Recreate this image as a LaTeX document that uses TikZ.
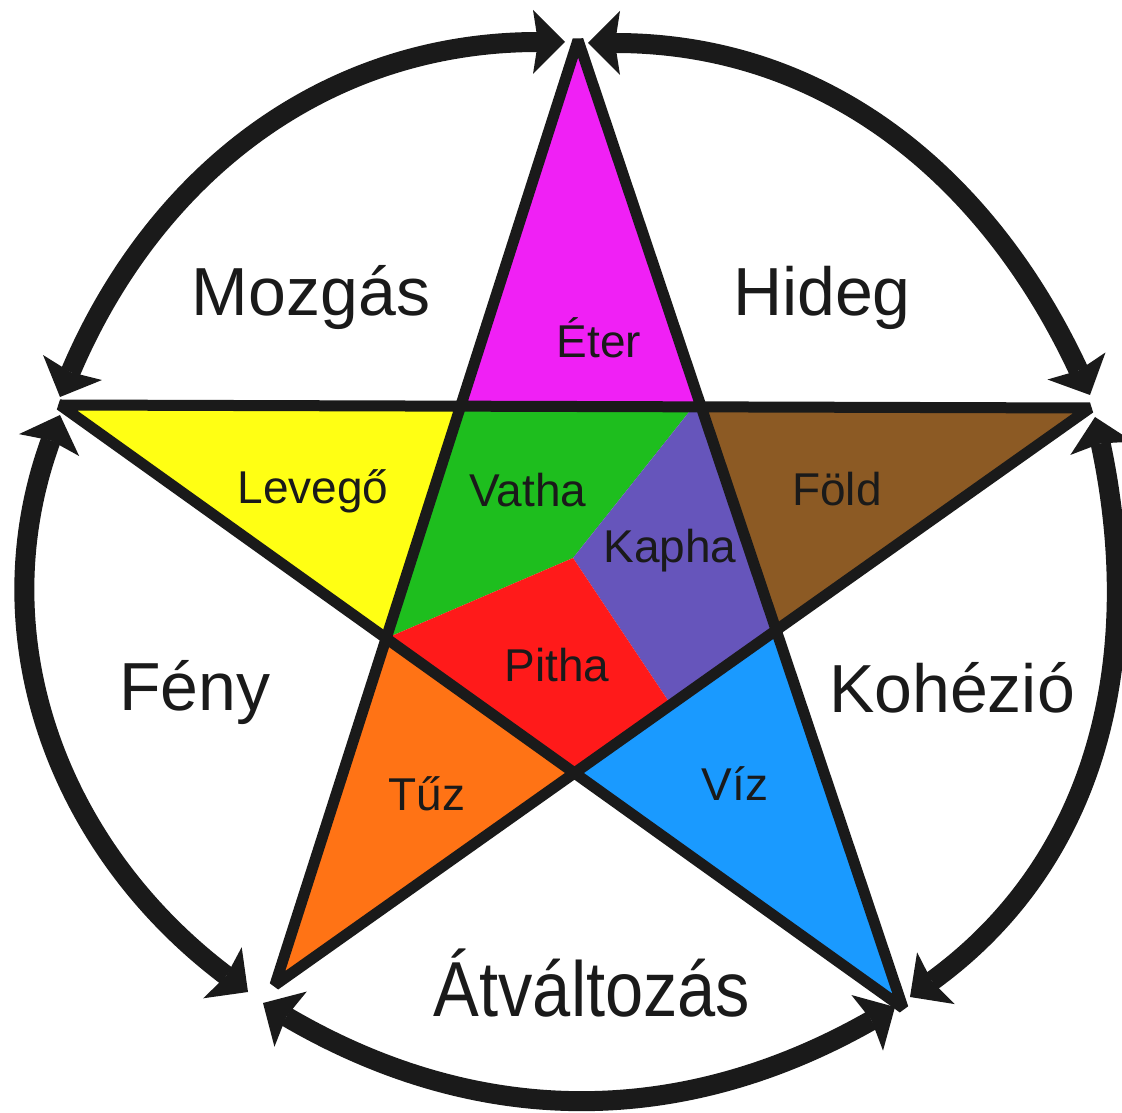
\documentclass[tikz,border=0pt]{standalone}
\usepackage{fontspec}
\setmainfont{Liberation Sans}
\usepackage{graphicx}
\usetikzlibrary{arrows.meta,calc}
\definecolor{ink}{HTML}{1A1A1A}
\definecolor{eter}{HTML}{F020F5}
\definecolor{levego}{HTML}{FFFF14}
\definecolor{fold}{HTML}{8C5A24}
\definecolor{tuz}{HTML}{FF7315}
\definecolor{viz}{HTML}{1A9AFF}
\definecolor{vatha}{HTML}{1EBE1E}
\definecolor{kapha}{HTML}{6655BB}
\definecolor{pitha}{HTML}{FF1A1A}
\begin{document}
\begin{tikzpicture}[x=1pt,y=1pt,
  starline/.style={draw=ink, line width=11pt, line join=bevel},
  cyc/.style={draw=ink, line width=20pt,
    {Stealth[length=32pt,width=64pt,inset=5pt,line width=0pt]}-{Stealth[length=32pt,width=64pt,inset=5pt,line width=0pt]}},
  big/.style={font=\fontsize{68}{68}\selectfont, text=ink, inner sep=0pt, anchor=base},
  small/.style={font=\fontsize{46}{46}\selectfont, text=ink, inner sep=0pt, anchor=base}]
\useasboundingbox (0,0) rectangle (1122,1112);
% star tips
\coordinate (T) at (578,1072);
\coordinate (L) at (60,707);
\coordinate (R) at (1090,704);
\coordinate (BL) at (275,127);
\coordinate (BR) at (903,104);
% inner pentagon
\coordinate (iUL) at (intersection of T--BL and L--R);
\coordinate (iUR) at (intersection of T--BR and L--R);
\coordinate (iL) at (intersection of T--BL and L--BR);
\coordinate (iR) at (intersection of T--BR and R--BL);
\coordinate (iB) at (intersection of L--BR and R--BL);
\coordinate (C) at (573,554);
\coordinate (G) at (693,705);
\coordinate (P) at (671,407);
% fills
\fill[eter] (T) -- (iUL) -- (iUR) -- cycle;
\fill[levego] (L) -- (iUL) -- (iL) -- cycle;
\fill[fold] (R) -- (iUR) -- (iR) -- cycle;
\fill[tuz] (BL) -- (iL) -- (iB) -- cycle;
\fill[viz] (BR) -- (iR) -- (iB) -- cycle;
\fill[vatha] (iUL) -- (G) -- (C) -- (iL) -- cycle;
\fill[kapha] (G) -- (iUR) -- (iR) -- (P) -- (C) -- cycle;
\fill[pitha] (iL) -- (C) -- (P) -- (iB) -- cycle;
% pentagram outline
\draw[starline] (T) -- (BL) -- (R) -- (L) -- (BR) -- cycle;
% arrow ends
\coordinate (a1) at (565,1070);
\coordinate (b1) at (60,715);
\coordinate (a3) at (60,697);
\coordinate (b3) at (248,120);
\coordinate (a5) at (263,109);
\coordinate (b5) at (895,105);
\coordinate (a4) at (910,115);
\coordinate (b4) at (1095,695);
\coordinate (a2) at (1090,717);
\coordinate (b2) at (588,1069);
\draw[cyc] (a1) to[out=180,in=67] (b1);
\draw[cyc] (a3) to[out=250,in=143] (b3);
\draw[cyc] (a5) to[bend right=30] (b5);
\draw[cyc] (a4) to[out=36,in=282] (b4);
\draw[cyc] (a2) to[out=115,in=0] (b2);
% labels
\node[big] (mozgas) at (311,796) {Mozgás};
\node[big] (hideg) at (822,796) {Hideg};
\node[big] (feny) at (195,401) {Fény};
\node[big] (kohezio) at (952,399) {Kohézió};
\node[big, font=\fontsize{78}{78}\selectfont] (atv) at (592,96) {\scalebox{0.88}[1]{Átváltozás}};
\node[small] (eterl) at (599,754) {Éter};
\node[small] (levegol) at (313,608) {Levegő};
\node[small] (vathal) at (528,605) {Vatha};
\node[small] (foldl) at (837,606) {Föld};
\node[small] (kaphal) at (670,549) {Kapha};
\node[small] (pithal) at (557,430) {Pitha};
\node[small] (tuzl) at (427,301) {Tűz};
\node[small] (vizl) at (735,311) {Víz};
\end{tikzpicture}
\end{document}
